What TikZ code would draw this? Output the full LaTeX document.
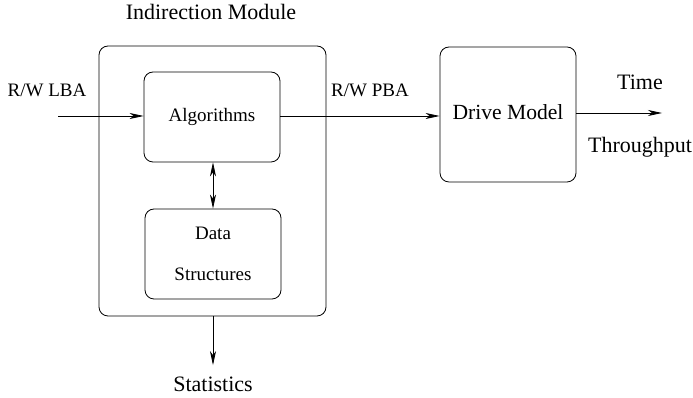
\documentclass[tikz,border=0pt]{standalone}
\usepackage{fontspec}
\setmainfont{Liberation Serif}
\usetikzlibrary{arrows.meta,positioning}
\tikzset{
  blk/.style={draw, rounded corners=9pt, line width=0.8pt, inner sep=0pt},
  lnk/.style={line width=0.8pt, -{Stealth[length=14pt,width=6pt,inset=4pt]}},
  dlnk/.style={line width=0.8pt, {Stealth[length=14pt,width=6pt,inset=4pt]}-{Stealth[length=14pt,width=6pt,inset=4pt]}},
  smallfont/.style={font=\fontsize{19}{21}\selectfont},
  bigfont/.style={font=\fontsize{22}{24}\selectfont},
}
\begin{document}
\begin{tikzpicture}[x=1pt,y=1pt]
 \useasboundingbox (0,0) rectangle (693,398);
 % boxes
 \node[blk, minimum width=227pt, minimum height=270pt] (module) at (212.5,217) {};
 \node[blk, smallfont, minimum width=136pt, minimum height=90pt] (algo) at (212,281) {Algorithms};
 \node[blk, smallfont, minimum width=136pt, minimum height=90pt, align=center] (data) at (213,144) {Data\\[20pt]Structures};
 \node[blk, font=\fontsize{21.6}{24}\selectfont, minimum width=136pt, minimum height=135pt] (drive) at (508,283.5) {\raisebox{4pt}{Drive Model}};
 % labels
 \node[bigfont] (modlbl) at (211,386) {Indirection Module};
 \node[smallfont] (lbalbl) at (47,308) {R/W LBA};
 \node[smallfont] (pbalbl) at (370,308) {R/W PBA};
 \node[bigfont] (timelbl) at (640,316) {Time};
 \node[bigfont] (tputlbl) at (640,251) {Throughput};
 \node[bigfont, inner sep=2pt, outer sep=9.5pt] (stats) at (213,14) {Statistics};
 \coordinate (in) at (58,282);
 \coordinate (out) at (662,285);
 % connectors
 \draw[lnk] (in) -- (in -| algo.west);
 \draw[lnk] (algo.east |- in) -- (in -| drive.west);
 \draw[lnk] (drive.east |- out) -- (out);
 \draw[dlnk] (algo.south -| data.north) -- (data.north);
 \draw[lnk] (module.south -| stats.north) -- (stats.north);
\end{tikzpicture}
\end{document}
